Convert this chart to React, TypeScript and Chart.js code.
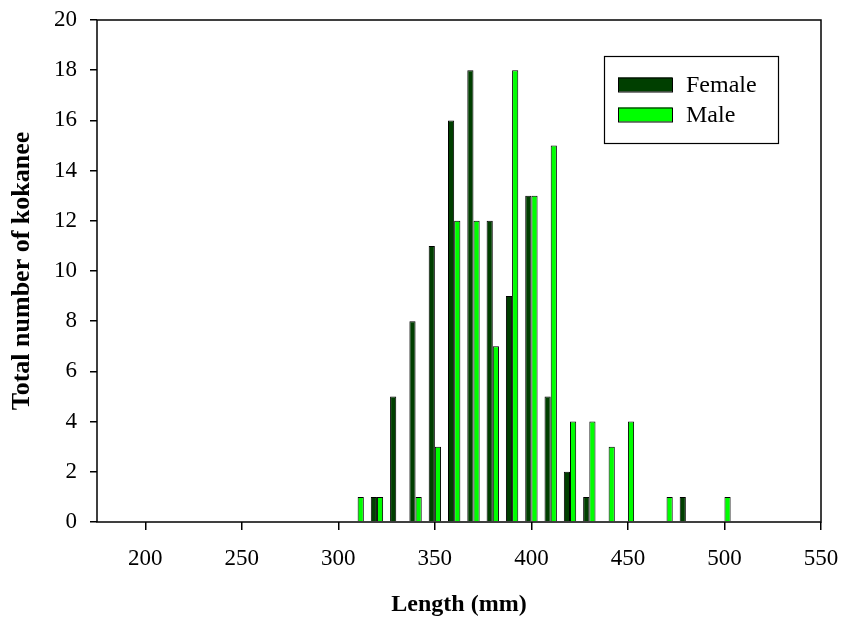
import React, { useEffect, useRef } from "react";
import { Chart, registerables } from "chart.js";

Chart.register(...registerables);

const femaleLengths = [320, 330, 340, 350, 360, 370, 380, 390, 400, 410, 420, 430, 480];
const femaleCounts = [1, 5, 8, 11, 16, 18, 12, 9, 13, 5, 2, 1, 1];
const maleLengths = [310, 320, 340, 350, 360, 370, 380, 390, 400, 410, 420, 430, 440, 450, 470, 500];
const maleCounts = [1, 1, 1, 3, 12, 12, 7, 18, 13, 15, 4, 4, 3, 4, 1, 1];
const seriesNames = ["Female", "Male"];
const seriesColors = ["#003F00", "#00FF00"];
const xTicks = [200, 250, 300, 350, 400, 450, 500, 550];

const FONT = "'Liberation Serif', 'Times New Roman', serif";

const framePlugin = {
  id: "frame",
  afterDatasetsDraw(chart: any) {
    const { ctx, chartArea } = chart;
    ctx.save();
    ctx.strokeStyle = "#000";
    ctx.lineWidth = 1.5;
    ctx.strokeRect(chartArea.left, chartArea.top, chartArea.right - chartArea.left, chartArea.bottom - chartArea.top);
    ctx.restore();
  },
};

const legendPlugin = {
  id: "boxLegend",
  afterDraw(chart: any) {
    const { ctx } = chart;
    ctx.save();
    const bx = 604, by = 56, bw = 174, bh = 87;
    ctx.fillStyle = "#fff";
    ctx.fillRect(bx, by, bw, bh);
    ctx.strokeStyle = "#000";
    ctx.lineWidth = 1.2;
    ctx.strokeRect(bx + 0.5, by + 0.5, bw, bh);
    ctx.font = `24px ${FONT}`;
    ctx.textBaseline = "middle";
    ctx.textAlign = "left";
    const rows = [84.5, 114.5];
    seriesNames.forEach((name, i) => {
      ctx.fillStyle = seriesColors[i];
      ctx.fillRect(618, rows[i] - 7, 54, 14);
      ctx.strokeStyle = "#000";
      ctx.lineWidth = 1;
      ctx.strokeRect(618.5, rows[i] - 6.5, 54, 14);
      ctx.fillStyle = "#000";
      ctx.fillText(name, 686, rows[i] + 1);
    });
    ctx.restore();
  },
};

export default function App() {
  const ref = useRef<HTMLCanvasElement>(null);
  useEffect(() => {
    document.body.style.margin = "0";
    const chart = new Chart(ref.current!, {
      type: "bar",
      data: {
        datasets: [
          {
            label: seriesNames[0],
            data: femaleLengths.map((x, i) => ({ x, y: femaleCounts[i] })),
            backgroundColor: seriesColors[0],
            borderColor: "#000",
            borderWidth: 1,
          },
          {
            label: seriesNames[1],
            data: maleLengths.map((x, i) => ({ x, y: maleCounts[i] })),
            backgroundColor: seriesColors[1],
            borderColor: "#000",
            borderWidth: 1,
          },
        ],
      },
      options: {
        responsive: false,
        animation: false,
        layout: { padding: { top: 20, right: 21, left: 0, bottom: 0 } },
        datasets: { bar: { categoryPercentage: 0.64, barPercentage: 1 } },
        plugins: { legend: { display: false }, tooltip: { enabled: false } },
        scales: {
          x: {
            type: "linear",
            min: 175,
            max: 550,
            offset: false,
            afterBuildTicks: (scale: any) => {
              scale.ticks = xTicks.map((v) => ({ value: v }));
            },
            afterFit: (scale: any) => {
              scale.height = 99;
              scale.paddingLeft = 0;
              scale.paddingRight = 0;
            },
            grid: { offset: false, drawOnChartArea: false, tickLength: 8, color: "#000", lineWidth: 1.5 },
            border: { display: false },
            ticks: { color: "#000", font: { family: FONT, size: 23 }, padding: 15, maxRotation: 0 },
            title: {
              display: true,
              text: "Length (mm)",
              color: "#000",
              font: { family: FONT, size: 24, weight: "bold" },
              padding: { top: 10, bottom: 2 },
            },
          },
          y: {
            min: 0,
            max: 20,
            afterFit: (scale: any) => {
              scale.width = 97;
              scale.paddingTop = 0;
              scale.paddingBottom = 0;
            },
            grid: { drawOnChartArea: false, tickLength: 7, color: "#000", lineWidth: 1.5 },
            border: { display: false },
            ticks: { stepSize: 2, color: "#000", font: { family: FONT, size: 23 }, padding: 13 },
            title: {
              display: true,
              text: "Total number of kokanee",
              color: "#000",
              font: { family: FONT, size: 26, weight: "bold" },
              padding: { top: 7, bottom: 0 },
            },
          },
        },
      },
      plugins: [framePlugin, legendPlugin],
    } as any);
    return () => chart.destroy();
  }, []);
  return (
    <div style={{ width: 842, height: 621 }}>
      <canvas ref={ref} width={842} height={621} />
    </div>
  );
}
